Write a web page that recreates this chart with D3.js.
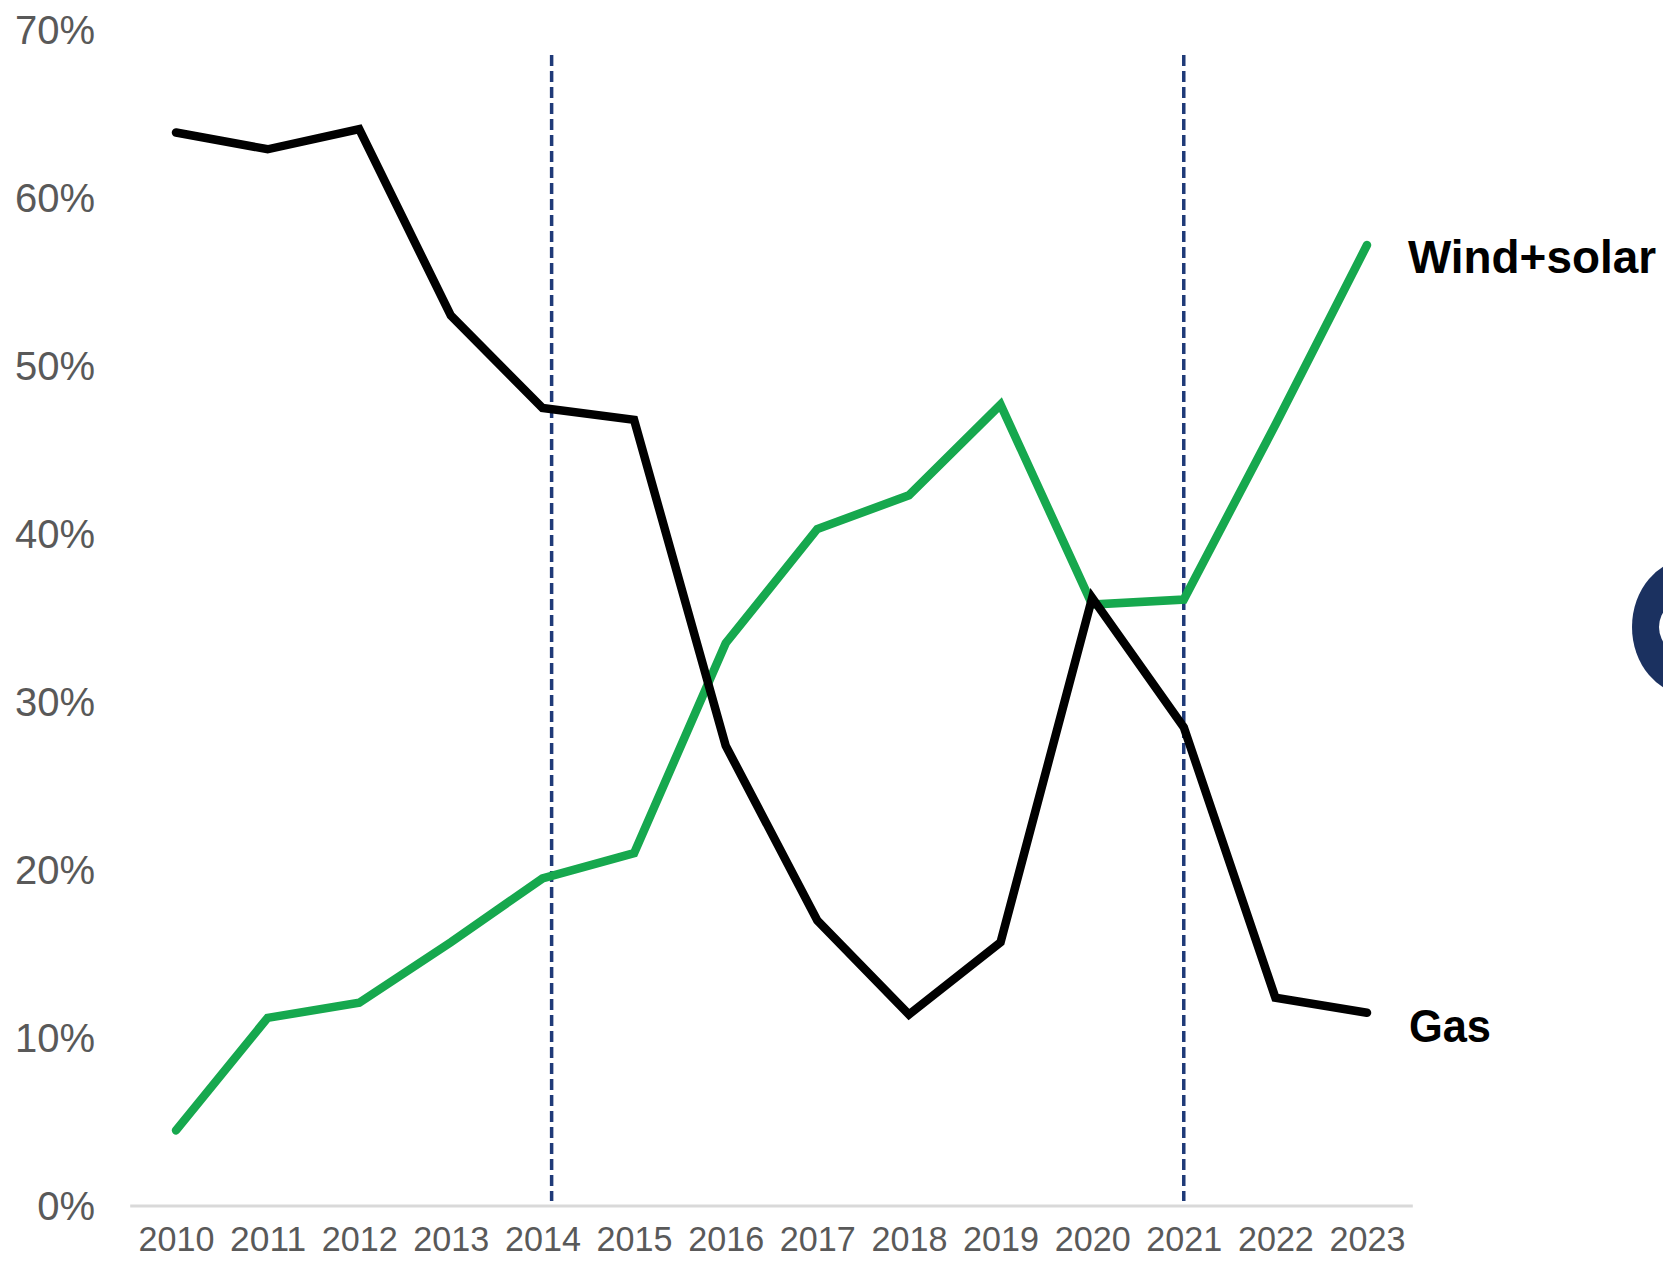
<!DOCTYPE html>
<html><head><meta charset="utf-8">
<script src="https://cdn.jsdelivr.net/npm/d3@7"></script>
<style>
html,body{margin:0;padding:0;background:#fff;}
svg{display:block;}
</style></head>
<body>
<svg id="chart" width="1663" height="1261"></svg>
<script>
const years = [2010,2011,2012,2013,2014,2015,2016,2017,2018,2019,2020,2021,2022,2023];
const gas = [63.9,62.9,64.1,53.0,47.5,46.8,27.4,17.0,11.4,15.7,36.2,28.5,12.4,11.5];
const windSolar = [4.5,11.2,12.1,15.7,19.5,21.0,33.5,40.3,42.3,47.7,35.8,36.1,46.5,57.2];
const yTicks = [0,10,20,30,40,50,60,70];
const markerYears = [2014.1, 2021];
const seriesNames = ["Gas","Wind+solar"];

const svg = d3.select("#chart");
const x = d3.scaleLinear().domain([2010,2023]).range([176,1367]);
const y = d3.scaleLinear().domain([0,70]).range([1206,30]);

// baseline axis line
svg.append("line")
  .attr("x1", x(2009.5)).attr("x2", x(2023.5))
  .attr("y1", y(0)).attr("y2", y(0))
  .attr("stroke", "#d9d9d9").attr("stroke-width", 3);

// y axis labels
const yAxis = svg.append("g").attr("transform","translate(95,0)")
  .call(d3.axisLeft(y).tickValues(yTicks).tickSize(0).tickPadding(0).tickFormat(d => d + "%"));
yAxis.select(".domain").remove();
yAxis.selectAll("text").attr("fill","#595959").attr("font-family","Liberation Sans, Arial, sans-serif")
  .attr("font-size", 40).attr("dy","0.33em");

// x axis labels
const xAxis = svg.append("g").attr("transform","translate(0,1251)")
  .call(d3.axisBottom(x).tickValues(years).tickSize(0).tickPadding(0).tickFormat(d3.format("d")));
xAxis.select(".domain").remove();
xAxis.selectAll("text").attr("y", 0).attr("fill","#595959").attr("font-family","Liberation Sans, Arial, sans-serif")
  .attr("font-size", 35).attr("dy","0")
  .attr("textLength", 76).attr("lengthAdjust","spacingAndGlyphs");

// dashed markers
svg.selectAll("line.marker").data(markerYears).enter().append("line")
  .attr("class","marker")
  .attr("x1", d => x(d)).attr("x2", d => x(d))
  .attr("y1", 55).attr("y2", 1201)
  .attr("stroke", "#1f3a78").attr("stroke-width", 3.5)
  .attr("stroke-dasharray", "11,5");

const line = d3.line().x(d => x(d[0])).y(d => y(d[1]));

svg.append("path").datum(years.map((yr,i)=>[yr,windSolar[i]]))
  .attr("d", line).attr("fill","none").attr("stroke","#16a84e")
  .attr("stroke-width", 8.5).attr("stroke-linecap","round").attr("stroke-linejoin","miter");

svg.append("path").datum(years.map((yr,i)=>[yr,gas[i]]))
  .attr("d", line).attr("fill","none").attr("stroke","#000")
  .attr("stroke-width", 8.5).attr("stroke-linecap","round").attr("stroke-linejoin","miter");

// series labels
svg.append("text").attr("x", 1408).attr("y", 273).text(seriesNames[1])
  .attr("font-family","Liberation Sans, Arial, sans-serif").attr("font-weight","bold")
  .attr("font-size", 46).attr("fill","#000")
  .attr("textLength", 248).attr("lengthAdjust","spacingAndGlyphs");
svg.append("text").attr("x", 1409).attr("y", 1042).text(seriesNames[0])
  .attr("font-family","Liberation Sans, Arial, sans-serif").attr("font-weight","bold")
  .attr("font-size", 46).attr("fill","#000")
  .attr("textLength", 82).attr("lengthAdjust","spacingAndGlyphs");

// partial logo decoration at right edge
svg.append("ellipse").attr("cx", 1690).attr("cy", 627).attr("rx", 58).attr("ry", 68).attr("fill","#1b3160");
svg.append("ellipse").attr("cx", 1692).attr("cy", 627).attr("rx", 33).attr("ry", 30).attr("fill","#fff");
</script>
</body></html>
